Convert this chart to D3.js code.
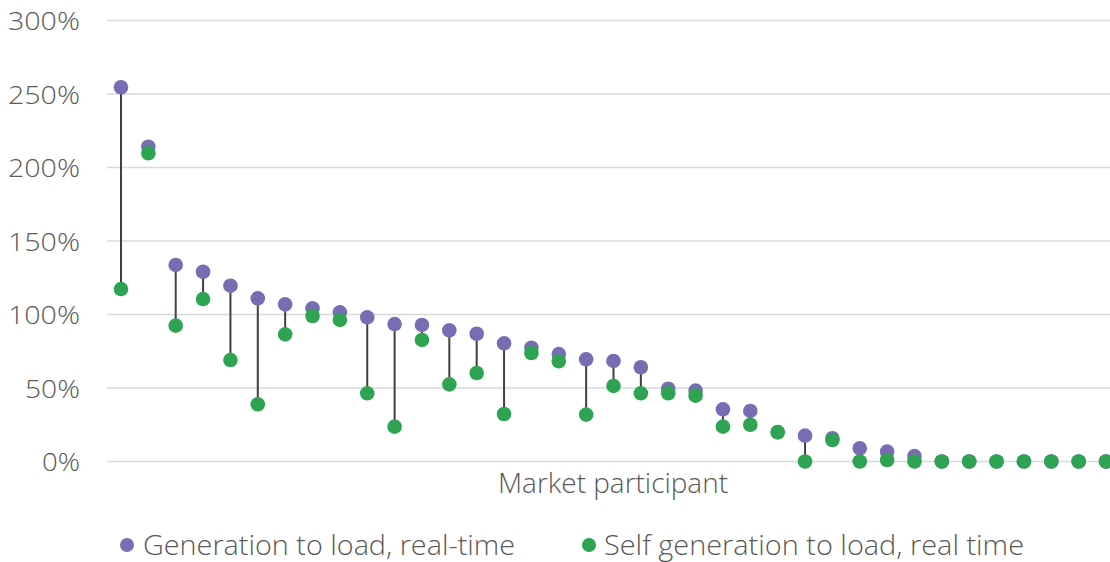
<!DOCTYPE html>
<html>
<head>
<meta charset="utf-8">
<script src="https://cdn.jsdelivr.net/npm/d3@7"></script>
<style>
  html, body { margin: 0; padding: 0; background: #fff; }
  svg { display: block; }
  text { font-family: "Open Sans", Lato, sans-serif; font-weight: 300; fill: #595959; }
</style>
</head>
<body>
<svg id="chart" width="1110" height="562"></svg>
<script>
const participants = ["P1","P2","P3","P4","P5","P6","P7","P8","P9","P10",
  "P11","P12","P13","P14","P15","P16","P17","P18","P19","P20",
  "P21","P22","P23","P24","P25","P26","P27","P28","P29","P30",
  "P31","P32","P33","P34","P35","P36","P37"];
const generationToLoad = [254.6, 214.1, 133.7, 129.1, 119.6, 111.0, 106.9, 104.2, 101.5, 98.1,
  93.5, 92.9, 89.2, 86.9, 80.4, 77.4, 73.1, 69.5, 68.4, 64.1,
  49.5, 48.2, 35.5, 34.4, 20.0, 17.6, 15.8, 9.0, 6.7, 3.7,
  0, 0, 0, 0, 0, 0, 0];
const selfGenerationToLoad = [117.3, 209.7, 92.4, 110.5, 69.0, 38.9, 86.5, 99.0, 96.3, 46.4,
  23.7, 82.7, 52.5, 60.2, 32.3, 73.8, 68.2, 31.9, 51.4, 46.4,
  46.4, 44.8, 23.7, 25.0, 19.9, 0, 14.6, 0, 1.0, 0,
  0, 0, 0, 0, 0, 0, 0];
const yTicks = [0, 50, 100, 150, 200, 250, 300];
const seriesNames = ["Generation to load, real-time", "Self generation to load, real time"];
const xAxisTitle = "Market participant";

const colors = ["#776db3", "#2ea453"];
const svg = d3.select("#chart");

const x = d3.scaleBand().domain(participants).range([107.3, 1119.7]);
const y = d3.scaleLinear().domain([0, 300]).range([461.5, 20.5]);
const cx = d => x(d) + x.bandwidth() / 2;

// gridlines
svg.append("g").selectAll("line").data(yTicks).join("line")
  .attr("x1", 107).attr("x2", 1110)
  .attr("y1", d => y(d)).attr("y2", d => y(d))
  .attr("stroke", "#d9d9d9").attr("stroke-width", 1.5);

// y axis labels
const yAxis = d3.axisLeft(y).tickValues(yTicks).tickFormat(d => d + "%").tickSize(0).tickPadding(0);
const ga = svg.append("g").attr("transform", "translate(80,0)").call(yAxis);
ga.select(".domain").remove();
ga.selectAll("text").attr("font-size", 25).attr("font-family", "'Open Sans', Lato, sans-serif")
  .attr("font-weight", 300).attr("fill", "#595959").attr("dy", "0.36em")
  .attr("textLength", d => String(d).length * 17 + 21).attr("lengthAdjust", "spacingAndGlyphs");

// connector lines
const rows = participants.map((p, i) => ({ p, a: generationToLoad[i], b: selfGenerationToLoad[i] }));
svg.append("g").selectAll("line").data(rows).join("line")
  .attr("x1", d => cx(d.p)).attr("x2", d => cx(d.p))
  .attr("y1", d => y(d.a)).attr("y2", d => y(d.b))
  .attr("stroke", "#404040").attr("stroke-width", 2);

// dots
svg.append("g").selectAll("circle").data(rows).join("circle")
  .attr("cx", d => cx(d.p)).attr("cy", d => y(d.a)).attr("r", 7.3).attr("fill", colors[0]);
svg.append("g").selectAll("circle").data(rows).join("circle")
  .attr("cx", d => cx(d.p)).attr("cy", d => y(d.b)).attr("r", 7.3).attr("fill", colors[1]);

// x axis title
svg.append("text").attr("x", 498).attr("y", 493)
  .attr("font-size", 28).attr("textLength", 230).attr("lengthAdjust", "spacingAndGlyphs")
  .text(xAxisTitle);

// legend
const legendDotX = [127, 589];
const legendTextX = [143, 604];
const legendTextW = [372, 420];
const lg = svg.append("g");
seriesNames.forEach((n, i) => {
  lg.append("circle").attr("cx", legendDotX[i]).attr("cy", 545).attr("r", 7).attr("fill", colors[i]);
  lg.append("text").attr("x", legendTextX[i]).attr("y", 555)
    .attr("font-size", 28).attr("textLength", legendTextW[i]).attr("lengthAdjust", "spacingAndGlyphs")
    .text(n);
});
</script>
</body>
</html>
